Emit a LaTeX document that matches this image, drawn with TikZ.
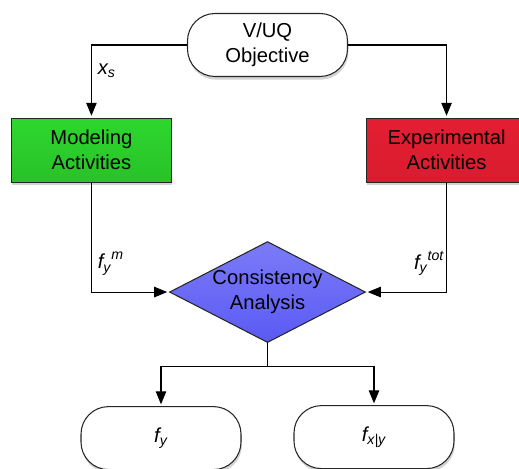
\documentclass[tikz,border=0pt]{standalone}
\usepackage{amsmath}
\usepackage{fontspec}
\setmainfont{Liberation Sans}
\usepackage{tikz}
\usetikzlibrary{shapes.geometric, arrows.meta, positioning, shadows}
\definecolor{modgreen}{RGB}{45,215,45}
\definecolor{modlight}{RGB}{175,250,175}
\definecolor{expred}{RGB}{228,30,50}
\definecolor{explight}{RGB}{250,185,190}
\definecolor{conblue}{RGB}{90,90,245}
\definecolor{conlight}{RGB}{215,215,252}
\tikzstyle{term} = [rectangle, rounded corners=0.55cm, minimum width=3.2cm, minimum height=1.26cm,
    text centered, align=center, draw=black!85, line width=0.6pt, fill=white,
    drop shadow={shadow xshift=0.5pt, shadow yshift=-1.8pt, opacity=0.35}]
\tikzstyle{block} = [rectangle, minimum width=3.2cm, minimum height=1.28cm, text centered,
    align=center, draw=black!85, line width=0.6pt,
    drop shadow={shadow xshift=0.5pt, shadow yshift=-1.8pt, opacity=0.35}]
\tikzstyle{decision} = [diamond, aspect=1.94, minimum width=3.92cm, minimum height=2.02cm, inner sep=0pt,
    text centered, align=center, draw=black!85, line width=0.6pt,
    top color=conblue!80!white, middle color=conlight, bottom color=conblue]
\tikzstyle{arrow} = [line width=0.6pt, ->, >={Triangle[length=0.26cm, width=0.21cm]}, shorten >=1pt]

\begin{document}
\begin{tikzpicture}[font=\fontsize{11.5}{14.2}\selectfont]
  \useasboundingbox (0,0) rectangle (10.38,9.38);
  \node (obj)   [term] at (5.35,8.48) {V/UQ\\Objective};
  \node (model) [block, top color=modgreen, middle color=modlight, bottom color=modgreen!90!black,
                 below left=0.81cm and 0.30cm of obj] {Modeling\\Activities};
  \node (exper) [block, top color=expred, middle color=explight, bottom color=expred!95!black,
                 below right=0.81cm and 0.36cm of obj] {Experimental\\Activities};
  \node (cons)  [decision, below=3.28cm of obj] {Consistency\\Analysis};
  \coordinate[below=0.46cm of cons.south] (split);
  \node (fy)    [term, below=1.26cm of cons, xshift=-2.13cm] {$\textit{f}_{\textit{y}}$};
  \node (fxy)   [term, below=1.24cm of cons, xshift=2.13cm] {$\textit{f}_{\textit{x|y}}$};

  \draw[arrow] (obj.west) -| node[pos=0.68, right] {$\textit{x}_{\textit{s}}$} (model.north);
  \draw[arrow] (obj.east) -| (exper.north);
  \draw[arrow] (model.south) |- node[pos=0.37, right] {${\textit{f}_{\textit{y}}}^{\textit{m}}$} (cons.west);
  \draw[arrow] (exper.south) |- node[pos=0.37, left, inner sep=1pt] {${\textit{f}_{\textit{y}}}^{\textit{tot}}$} (cons.east);
  \draw[line width=0.6pt] (cons.south) -- (split);
  \draw[arrow] (split) -| (fy.north);
  \draw[arrow] (split) -| (fxy.north);
\end{tikzpicture}
\end{document}
